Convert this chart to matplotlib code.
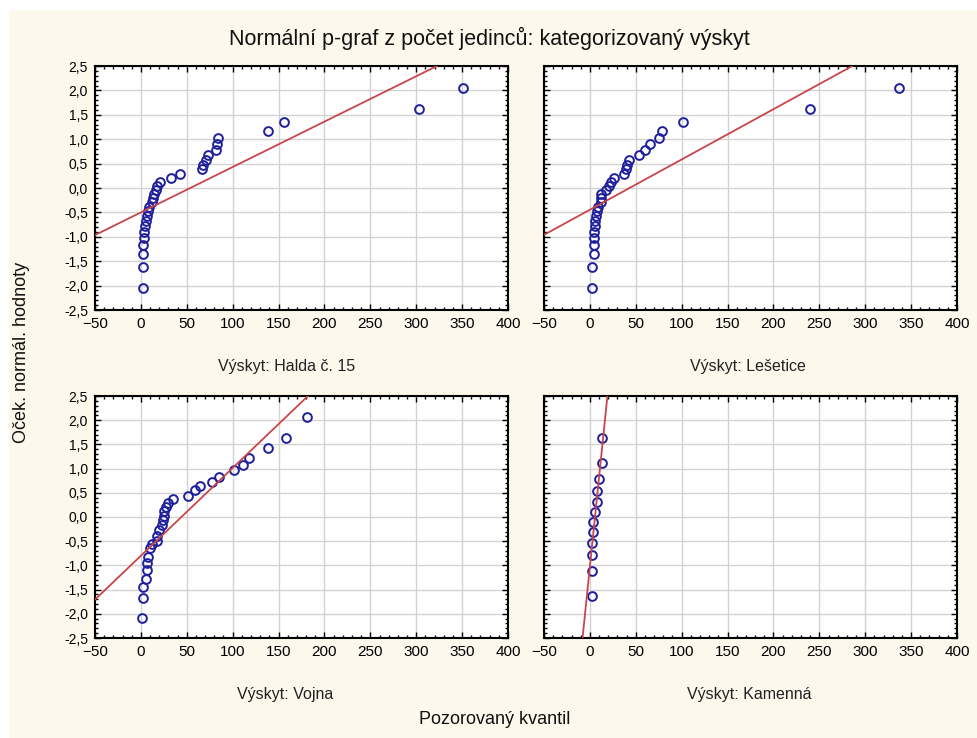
import numpy as np
import matplotlib
matplotlib.use("Agg")
import matplotlib.pyplot as plt
from matplotlib.ticker import MultipleLocator, FuncFormatter
from matplotlib.patches import Rectangle

q30 = [-2.04, -1.61, -1.36, -1.175, -1.024, -0.893, -0.776, -0.668, -0.568, -0.473,
       -0.382, -0.294, -0.208, -0.124, -0.041, 0.041, 0.124, 0.208, 0.294, 0.382,
       0.473, 0.568, 0.668, 0.776, 0.893, 1.024, 1.175, 1.36, 1.61, 2.04]

halda_x = [2, 2, 2, 2, 3.5, 3.5, 4, 5.5, 7, 8, 9, 12, 13, 14, 16, 18, 21, 33, 43,
           67, 68, 70.5, 73, 82, 83, 83.5, 138, 156, 303, 351]
halda_y = q30

lesetice_x = [2.5, 2.5, 4.5, 4.5, 4.5, 5, 5.5, 6, 7, 8, 9, 12, 12, 12.5, 18, 20.5,
              23, 26.5, 37.5, 39, 40, 43, 54, 60, 65.5, 75.5, 79, 101, 240, 337]
lesetice_y = q30

vojna_x = [0.7, 1.8, 1.8, 5.5, 6.2, 7, 8, 9.8, 11.7, 17.9, 17.9, 20, 23.3, 24.5,
           25.6, 25.6, 27.4, 30, 35.4, 51, 59, 64, 78, 84.6, 101, 111, 117.4, 138,
           158, 181]
vojna_y = [-2.08, -1.68, -1.45, -1.28, -1.09, -0.95, -0.82, -0.65, -0.56, -0.49,
           -0.39, -0.27, -0.16, -0.06, 0.03, 0.13, 0.21, 0.28, 0.38, 0.44, 0.56,
           0.64, 0.73, 0.83, 0.97, 1.08, 1.22, 1.42, 1.64, 2.07]

kamenna_x = [2, 2, 2, 2, 3.5, 3.5, 5.5, 7.5, 7.5, 9.5, 13.5, 13.5]
kamenna_y = [-1.635, -1.114, -0.792, -0.536, -0.311, -0.102, 0.102, 0.311, 0.536,
             0.792, 1.114, 1.635]

# reference lines: intercept at x=0, slope
line_b = [-0.50, -0.445, -0.80, -1.024]
line_m = [0.0093, 0.0103, 0.01813, 0.1845]

labels = ["Výskyt: Halda č. 15", "Výskyt: Lešetice", "Výskyt: Vojna", "Výskyt: Kamenná"]
xticks = [-50, 0, 50, 100, 150, 200, 250, 300, 350, 400]
yticks = [-2.5, -2.0, -1.5, -1.0, -0.5, 0.0, 0.5, 1.0, 1.5, 2.0, 2.5]

cream = "#fcf8ec"
plt.rcParams["font.family"] = ["Liberation Sans", "DejaVu Sans"]

W, H = 978, 738
fig = plt.figure(figsize=(W / 100, H / 100), dpi=100, facecolor=cream)
fig.patches.append(Rectangle((0, 1 - 9 / H), 1, 9 / H, transform=fig.transFigure,
                             color="white", zorder=0))
fig.patches.append(Rectangle((0, 0), 8 / W, 1, transform=fig.transFigure,
                             color="white", zorder=0))

# axes boxes in pixels: left, top, right, bottom
boxes = [(95, 66, 508, 310), (544, 66, 957, 310),
         (95, 396, 508, 638), (544, 396, 957, 638)]
data = [(halda_x, halda_y), (lesetice_x, lesetice_y),
        (vojna_x, vojna_y), (kamenna_x, kamenna_y)]
label_pos = [(287, 367), (748, 367), (285, 695), (749, 695)]

comma = FuncFormatter(lambda v, p: f"{v:.1f}".replace(".", ","))

for i, (l, t, r, b) in enumerate(boxes):
    ax = fig.add_axes([l / W, 1 - b / H, (r - l) / W, (b - t) / H])
    ax.set_facecolor("white")
    x, y = data[i]
    ax.plot(x, y, "o", mfc="none", mec="#1f1f9c", ms=6.3, mew=1.4, zorder=3)
    ax.axline((0, line_b[i]), slope=line_m[i], color="#c9454a", lw=1.3, zorder=4)
    ax.set_xlim(-50, 400)
    ax.set_ylim(-2.5, 2.5)
    ax.set_xticks(xticks)
    ax.set_yticks(yticks)
    ax.xaxis.set_minor_locator(MultipleLocator(10))
    ax.yaxis.set_minor_locator(MultipleLocator(0.1))
    ax.grid(True, which="major", color="#d2d2d2", lw=1)
    ax.set_axisbelow(True)
    ax.tick_params(which="both", direction="in", top=True, right=True,
                   color="black", width=1)
    ax.tick_params(which="major", length=4, pad=5)
    ax.tick_params(which="minor", length=2)
    ax.yaxis.set_major_formatter(comma)
    for lab in ax.get_xticklabels():
        lab.set_fontsize(11)
    for lab in ax.get_yticklabels():
        lab.set_fontsize(10)
    if i % 2 == 1:
        ax.set_yticklabels([])
    for s in ax.spines.values():
        s.set_linewidth(1.5)
        s.set_color("black")
    fig.text(label_pos[i][0] / W, 1 - label_pos[i][1] / H, labels[i],
             ha="center", va="center", fontsize=11.5, color="#222222")

fig.text(489 / W, 1 - 38 / H, "Normální p-graf z počet jedinců: kategorizovaný výskyt",
         ha="center", va="center", fontsize=15.5, color="#111111")
fig.text(22 / W, 1 - 352 / H, "Oček. normál. hodnoty", rotation=90,
         ha="center", va="center", fontsize=13, color="#111111")
fig.text(495 / W, 1 - 720 / H, "Pozorovaný kvantil", ha="center", va="center",
         fontsize=13, color="#111111")

fig.savefig("out.png", dpi=100, facecolor=fig.get_facecolor())
